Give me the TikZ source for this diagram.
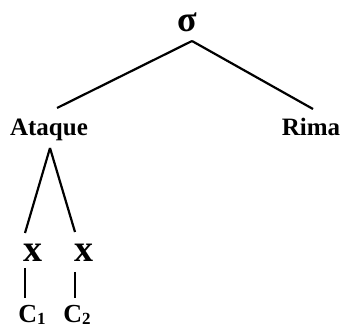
\documentclass[tikz,border=0pt]{standalone}
\usepackage{fontspec}
\usetikzlibrary{calc}
\setmainfont{Liberation Serif}
\newcommand{\mysub}[1]{\raisebox{-2pt}{\fontsize{17}{17}\selectfont #1}}
\begin{document}
\begin{tikzpicture}[x=1pt,y=-1pt,
  lbl/.style={inner sep=0pt,anchor=base,font=\fontsize{25}{25}\selectfont\bfseries},
  xn/.style={inner sep=0pt,anchor=base,font=\fontsize{38}{38}\selectfont\bfseries},
  cn/.style={inner sep=0pt,anchor=base,font=\fontsize{26}{26}\selectfont\bfseries},
  edge/.style={line width=2.2pt}]
\useasboundingbox (0,0) rectangle (340,328);
\node[cn,font=\fontsize{36}{36}\selectfont\bfseries] (sigma) at (187,32) {σ};
\node[lbl] (ataque) at (49,136) {Ataque};
\node[lbl] (rima) at (311,136) {Rima};
\node[xn] (x1) at (33,262) {x};
\node[xn] (x2) at (84,262) {x};
\node[cn] (c1) at (32,323) {C\mysub{1}};
\node[cn] (c2) at (77,323) {C\mysub{2}};
\draw[edge] ($(sigma.base)+(5,9)$) -- ($(ataque.base)+(8,-28)$);
\draw[edge] ($(sigma.base)+(5,9)$) -- ($(rima.base)+(2,-27)$);
\draw[edge] ($(ataque.base)+(1,12)$) -- ($(x1.base)+(-8,-29)$);
\draw[edge] ($(ataque.base)+(1,12)$) -- ($(x2.base)+(-9,-30)$);
\draw[edge] ($(x1.base)+(-8,6)$) -- ($(x1.base)+(-8,36)$);
\draw[edge] ($(x2.base)+(-9,10)$) -- ($(x2.base)+(-9,36)$);
\end{tikzpicture}
\end{document}
